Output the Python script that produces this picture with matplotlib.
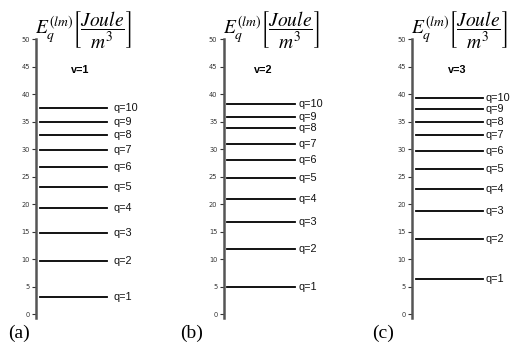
import matplotlib
matplotlib.use("Agg")
import matplotlib.pyplot as plt

plt.rcParams['mathtext.fontset'] = 'stix'

q_labels = ["q=1", "q=2", "q=3", "q=4", "q=5", "q=6", "q=7", "q=8", "q=9", "q=10"]
energies_v1 = [3.2, 9.6, 14.7, 19.2, 23.1, 26.7, 29.8, 32.5, 35.0, 37.4]
energies_v2 = [4.85, 11.8, 16.7, 20.9, 24.8, 28.1, 31.0, 33.8, 35.9, 38.2]
energies_v3 = [6.3, 13.7, 18.7, 22.7, 26.4, 29.6, 32.5, 34.9, 37.3, 39.2]
panel_titles = ["v=1", "v=2", "v=3"]
panel_letters = ["(a)", "(b)", "(c)"]
yticks = [0, 5, 10, 15, 20, 25, 30, 35, 40, 45, 50]

series = [energies_v1, energies_v2, energies_v3]

fig = plt.figure(figsize=(5.16, 3.46), dpi=100)
lefts = [36/516, 223.7/516, 412.3/516]
title_x = [0.44, 0.40, 0.45]
label_x = [0.775, 0.75, 0.735]
letter_x = [8/516, 180/516, 372/516]
bottom = (346 - 318) / 346
height = 279 / 346
width = 100 / 516

header = r"$E_q^{(lm)}\left[\dfrac{Joule}{m^3}\right]$"

for i, vals in enumerate(series):
    ax = fig.add_axes([lefts[i], bottom, width, height])
    ax.set_ylim(-0.7, 50)
    ax.set_xlim(0, 1)
    for s in ["top", "right", "bottom"]:
        ax.spines[s].set_visible(False)
    ax.spines["left"].set_color("#555555")
    ax.spines["left"].set_linewidth(1.8)
    ax.set_xticks([])
    ax.set_yticks(yticks)
    ax.tick_params(axis="y", labelsize=4.8, length=3, width=0.8, colors="#333333", pad=1.5)
    for v, lab in zip(vals, q_labels):
        ax.axhline(v, xmin=0.035, xmax=0.71, color="black", lw=1.3)
        ax.text(label_x[i], v, lab, fontsize=7.8, va="center", ha="left",
                family="Liberation Sans", color="#111111")
    ax.text(title_x[i], 44.3, panel_titles[i], fontsize=7.8, fontweight="bold",
            ha="center", va="center", family="Liberation Sans")
    fig.text(lefts[i] - 0.002, 1 - 30/346, header, fontsize=14, ha="left", va="center")
    fig.text(letter_x[i], 1 - 333/346, panel_letters[i], fontsize=14, ha="left",
             va="center", family="Liberation Serif")

fig.savefig("out.png", dpi=100)
